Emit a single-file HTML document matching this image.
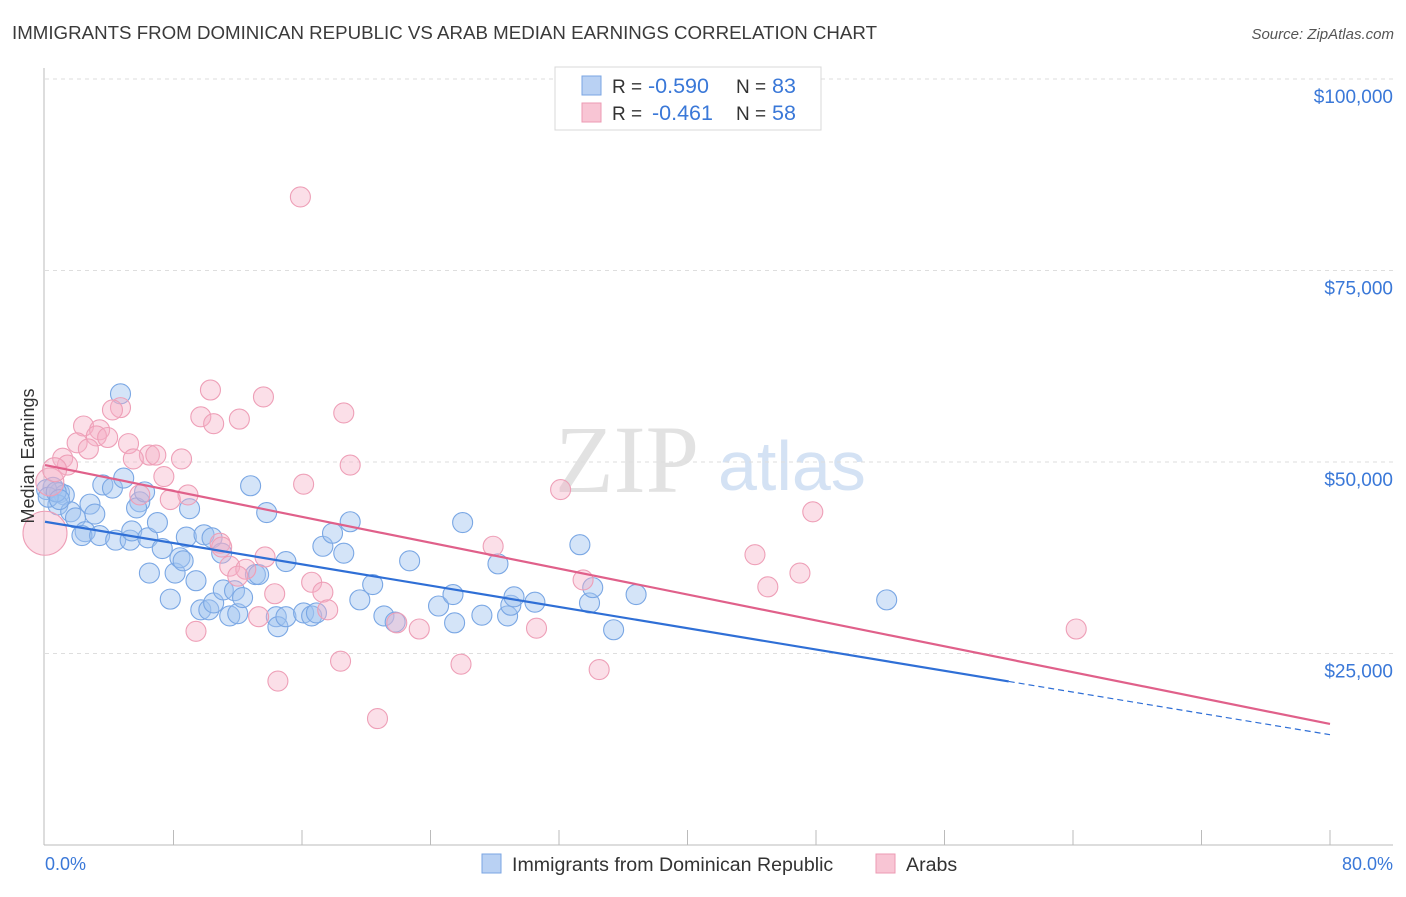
<!DOCTYPE html>
<html><head><meta charset="utf-8"><style>
body{margin:0;background:#fff;width:1406px;height:892px;overflow:hidden;font-family:"Liberation Sans",sans-serif}
</style></head><body>
<svg width="1406" height="892" viewBox="0 0 1406 892" xmlns="http://www.w3.org/2000/svg" font-family="Liberation Sans, sans-serif">
<text x="12" y="39" font-size="18.6" fill="#3a3a3a" textLength="865" lengthAdjust="spacingAndGlyphs">IMMIGRANTS FROM DOMINICAN REPUBLIC VS ARAB MEDIAN EARNINGS CORRELATION CHART</text>
<text x="1394" y="39" font-size="15" fill="#555" font-style="italic" text-anchor="end">Source: ZipAtlas.com</text>
<g>
<text x="555" y="492" font-size="96" font-family="Liberation Serif, serif" fill="#e2e2e2">ZIP</text>
<text x="718" y="490" font-size="70" fill="#d4e2f4">atlas</text>
</g>
<g id="grid"></g>
<g id="axes"></g>
<g id="marks"></g>
<text transform="translate(34,456) rotate(-90)" font-size="18" fill="#333" text-anchor="middle">Median Earnings</text>
<g>
<rect x="555" y="67" width="266" height="63" fill="#fff" stroke="#d8d8d8"/>
<rect x="582" y="76" width="19" height="19" fill="#b9d1f3" stroke="#7aa5e3"/>
<rect x="582" y="103" width="19" height="19" fill="#f8c5d4" stroke="#ec9ab3"/>
<text x="612" y="93" font-size="19" fill="#333">R =</text>
<text x="648" y="93" font-size="21.5" fill="#3a78d8">-0.590</text>
<text x="736" y="93" font-size="19" fill="#333">N =</text>
<text x="772" y="93" font-size="21.5" fill="#3a78d8">83</text>
<text x="612" y="120" font-size="19" fill="#333">R =</text>
<text x="652" y="120" font-size="21.5" fill="#3a78d8">-0.461</text>
<text x="736" y="120" font-size="19" fill="#333">N =</text>
<text x="772" y="120" font-size="21.5" fill="#3a78d8">58</text>
</g>
<g>
<rect x="482" y="854" width="19" height="19" fill="#b9d1f3" stroke="#7aa5e3"/>
<text x="512" y="871" font-size="19.6" fill="#333">Immigrants from Dominican Republic</text>
<rect x="876" y="854" width="19" height="19" fill="#f8c5d4" stroke="#ec9ab3"/>
<text x="906" y="871" font-size="19.6" fill="#333">Arabs</text>
</g>
</svg>
<script>
const yTicks=[25000,50000,75000,100000];
const yTickLabels=["$25,000","$50,000","$75,000","$100,000"];
const xTickLabels=["0.0%","80.0%"];
const blueX=[4.7,0.5,0.9,1.2,0.8,1.6,2.8,3.1,1.9,2.5,2.3,3.4,4.4,5.3,3.6,4.2,4.9,5.9,5.7,6.2,5.4,6.4,7.0,7.3,6.5,8.1,8.4,8.6,8.8,9.0,9.4,7.8,9.7,10.2,10.5,9.9,10.4,11.0,11.1,11.5,12.0,11.8,12.3,13.1,13.3,12.8,13.8,14.4,14.5,15.0,15.0,16.1,16.6,16.9,17.3,17.9,18.6,19.0,19.6,20.4,21.1,21.8,22.7,24.5,25.5,25.4,26.0,27.2,28.2,28.8,29.0,29.2,30.5,33.3,33.9,34.1,35.4,36.8,52.4,0.1,0.2,0.7,0.9];
const blueY=[58.9,46.7,46.0,45.7,44.4,43.5,44.5,43.2,42.7,40.9,40.4,40.4,39.8,39.8,47.0,46.6,47.9,44.8,44.0,46.1,41.0,40.1,42.1,38.7,35.5,35.5,37.5,37.1,40.2,43.9,34.5,32.1,30.7,30.7,31.6,40.5,40.1,38.1,33.3,29.9,30.2,33.2,32.3,35.3,35.3,46.9,43.4,29.8,28.5,29.8,37.0,30.3,29.9,30.3,39.0,40.7,38.1,42.2,32.0,34.0,29.9,29.1,37.1,31.2,29.0,32.7,42.1,30.0,36.7,29.9,31.3,32.4,31.7,39.2,31.6,33.6,28.1,32.7,32.0,46.4,45.4,46.1,45.1];
const pinkX=[15.9,10.3,13.6,4.7,4.2,18.6,9.7,12.1,10.5,2.4,3.4,3.2,3.9,2.0,5.2,6.5,6.9,1.1,5.5,8.5,2.7,1.4,19.0,7.4,16.1,32.1,5.9,8.9,7.8,47.8,0.0,0.3,0.6,10.9,11.0,27.9,13.7,44.2,11.5,12.5,47.0,12.0,33.5,16.6,17.3,14.3,45.0,17.6,13.3,21.9,23.3,30.6,9.4,64.2,18.4,25.9,34.5,14.5,20.7];
const pinkY=[84.6,59.4,58.5,57.1,56.8,56.4,55.9,55.6,55.0,54.7,54.2,53.4,53.2,52.5,52.4,50.9,50.9,50.5,50.4,50.4,51.7,49.6,49.6,48.1,47.1,46.4,45.7,45.7,45.1,43.5,40.7,47.4,49.0,39.4,38.9,39.0,37.6,37.9,36.4,36.0,35.5,35.1,34.6,34.3,33.0,32.8,33.7,30.7,29.8,29.0,28.2,28.3,27.9,28.2,24.0,23.6,22.9,21.4,16.5];
const pinkR=[10,10,10,10,10,10,10,10,10,10,10,10,10,10,10,10,10,10,10,10,10,10,10,10,10,10,10,10,10,10,22,14,12,10,10,10,10,10,10,10,10,10,10,10,10,10,10,10,10,10,10,10,10,10,10,10,10,10,10];
const blueTrend=[42.2,14.4], pinkTrend=[49.6,15.8];
const ns="http://www.w3.org/2000/svg";
function sx(p){return 45+p/80*1285;}
function sy(k){return 845-k/100*766;}
function mk(t,a,parent){const e=document.createElementNS(ns,t);for(const k in a)e.setAttribute(k,a[k]);parent.appendChild(e);return e;}
const grid=document.getElementById('grid'),axes=document.getElementById('axes'),marks=document.getElementById('marks');
yTicks.forEach((v,i)=>{const y=sy(v/1000);
 const l=mk('line',{x1:45,x2:1393,y1:y,y2:y,stroke:'#dedede','stroke-dasharray':'4,4'},grid);
 
 
 const t=mk('text',{x:1393,y:y+24,'font-size':19,fill:'#3a78d8','text-anchor':'end'},axes);t.textContent=yTickLabels[i];
 
 
});
const ya=mk('line',{x1:44,x2:44,y1:68,y2:845,stroke:'#bbb'},axes);


const xa=mk('line',{x1:44,x2:1393,y1:845,y2:845,stroke:'#bbb'},axes);


for(let p=8;p<=80;p+=8){const tk=mk('line',{x1:sx(p),x2:sx(p),y1:830,y2:845,stroke:'#bbb'},axes);
 
 }
[[45,'start'],[1393,'end']].forEach((a,i)=>{const t=mk('text',{x:a[0],y:870,'font-size':18,fill:'#3a78d8','text-anchor':a[1]},axes);t.textContent=xTickLabels[i];
 
 });
blueX.forEach((x,i)=>{const c=mk('circle',{cx:sx(x),cy:sy(blueY[i]),r:10,fill:'rgba(160,195,240,0.45)',stroke:'#7aa7e4','stroke-width':1.1},marks);
 
 });
pinkX.forEach((x,i)=>{const c=mk('circle',{cx:sx(x),cy:sy(pinkY[i]),r:pinkR[i],fill:'rgba(245,175,198,0.4)',stroke:'#ee9fb7','stroke-width':1.1},marks);
 
 });
function at(tr,p){return tr[0]+(tr[1]-tr[0])*p/80;}
const bl=mk('line',{x1:sx(0),y1:sy(at(blueTrend,0)),x2:sx(60),y2:sy(at(blueTrend,60)),stroke:'#2f6fd6','stroke-width':2.2},marks);


const bd=mk('line',{x1:sx(60),y1:sy(at(blueTrend,60)),x2:sx(80),y2:sy(at(blueTrend,80)),stroke:'#2f6fd6','stroke-width':1.2,'stroke-dasharray':'6,4'},marks);


const pl=mk('line',{x1:sx(0),y1:sy(at(pinkTrend,0)),x2:sx(80),y2:sy(at(pinkTrend,80)),stroke:'#e0608a','stroke-width':2.2},marks);


</script>
</body></html>
